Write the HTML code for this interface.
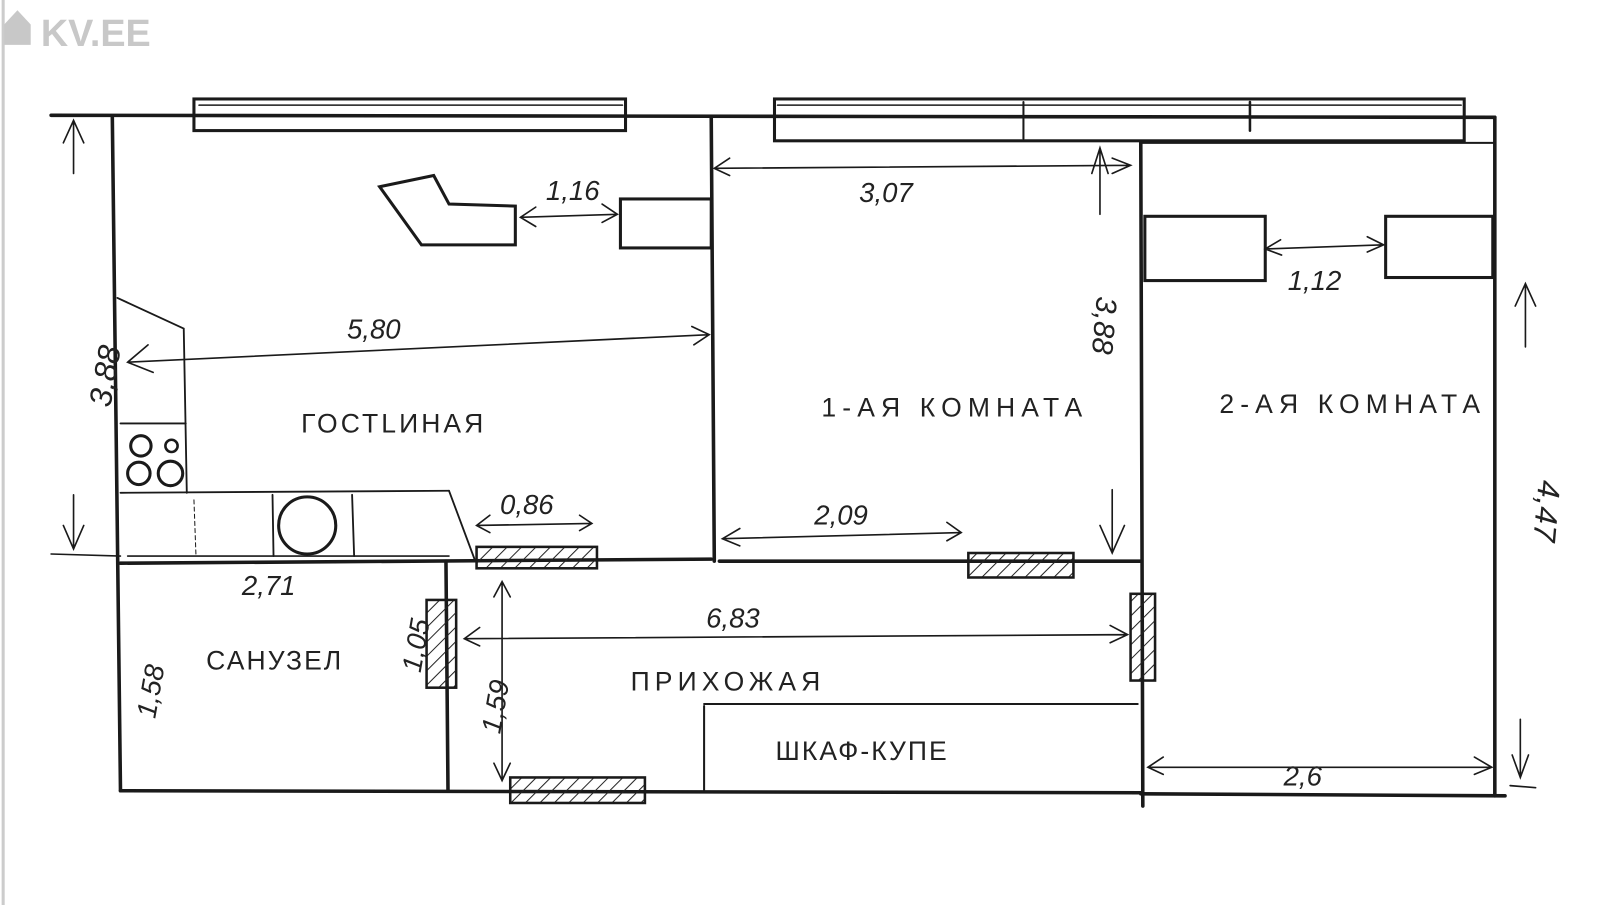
<!DOCTYPE html>
<html><head><meta charset="utf-8"><style>
html,body{margin:0;padding:0;background:#fff;width:1600px;height:905px;overflow:hidden}
svg{display:block}
text{font-family:"Liberation Sans","DejaVu Sans",sans-serif;fill:#222}
</style></head><body>
<svg width="1600" height="905" viewBox="0 0 1568 887" xmlns="http://www.w3.org/2000/svg">
<defs>
<pattern id="h" width="10" height="10" patternUnits="userSpaceOnUse" patternTransform="rotate(45)">
<line x1="0" y1="0" x2="0" y2="10" stroke="#222" stroke-width="2"/></pattern>
</defs>
<rect width="1568" height="887" fill="#fff"/>
<line x1="3" y1="0" x2="3" y2="887" stroke="#ccc" stroke-width="3"/>
<!-- logo -->
<path d="M4 44 L4 24 L17 10 L30 24 L30 44 Z" fill="#c8c8c8"/>
<text x="40" y="45" font-size="37" font-weight="bold" style="fill:#c8c8c8">KV.EE</text>
<g stroke="#1a1a1a" fill="none" stroke-linecap="round">
<g stroke-width="3.5">
<line x1="50" y1="113" x2="1465" y2="115"/>
<line x1="110" y1="115" x2="118" y2="775"/>
<line x1="697" y1="115" x2="700" y2="550"/>
<line x1="1118" y1="140" x2="1120" y2="790"/>
<line x1="1465" y1="115" x2="1465" y2="780"/>
<line x1="118" y1="552" x2="697" y2="548"/>
<line x1="705" y1="550" x2="1118" y2="550"/>
<line x1="118" y1="775" x2="1118" y2="777"/>
<line x1="1118" y1="778" x2="1475" y2="780"/>
<line x1="437" y1="550" x2="439" y2="775"/>
</g>
<line x1="1118" y1="140" x2="1465" y2="140" stroke-width="2"/>
<line x1="50" y1="543" x2="118" y2="545" stroke-width="1.5"/>
<rect x="190" y="97" width="423" height="31" stroke-width="3"/>
<line x1="195" y1="103" x2="610" y2="103" stroke-width="1.5"/>
<rect x="759" y="97" width="676" height="41" stroke-width="3"/>
<line x1="762" y1="103" x2="1432" y2="103" stroke-width="1.5"/>
<line x1="1003" y1="100" x2="1003" y2="136" stroke-width="2"/>
<line x1="1225" y1="100" x2="1225" y2="128" stroke-width="2.5"/>
<rect x="608" y="195" width="89" height="48" stroke-width="3"/>
<rect x="1122" y="212" width="118" height="63" stroke-width="3"/>
<rect x="1358" y="212" width="105" height="60" stroke-width="3"/>
<path d="M372 183 L425 172 L440 200 L505 202 L505 240 L413 240 Z" stroke-width="3"/>
<path d="M115 292 L180 322 L183 483" stroke-width="1.8"/>
<line x1="118" y1="415" x2="182" y2="415" stroke-width="1.8"/>
<line x1="118" y1="483" x2="440" y2="481" stroke-width="1.8"/>
<line x1="440" y1="481" x2="465" y2="548" stroke-width="1.8"/>
<line x1="125" y1="545" x2="440" y2="545" stroke-width="1.5"/>
<line x1="190" y1="490" x2="192" y2="545" stroke-width="1" stroke-dasharray="4 3"/>
<line x1="267" y1="485" x2="268" y2="545" stroke-width="1.8"/>
<line x1="345" y1="485" x2="347" y2="545" stroke-width="1.8"/>
<circle cx="301" cy="515" r="28" stroke-width="3"/>
<circle cx="138" cy="437" r="10" stroke-width="3"/>
<circle cx="168" cy="437" r="6" stroke-width="2.5"/>
<circle cx="136" cy="464" r="11" stroke-width="3"/>
<circle cx="167" cy="464" r="12" stroke-width="3"/>
<line x1="690" y1="690" x2="1115" y2="690" stroke-width="2"/>
<line x1="690" y1="692" x2="690" y2="775" stroke-width="2"/>
<g stroke-width="2.5" fill="url(#h)">
<rect x="467" y="536" width="118" height="21"/>
<rect x="949" y="542" width="103" height="24"/>
<rect x="418" y="588" width="29" height="86"/>
<rect x="1108" y="582" width="24" height="85"/>
<rect x="500" y="762" width="132" height="25"/>
</g>
<g stroke-width="1.6">
<path d="M510 213 L605 210 M525 203 L510 213 L525 222 M590 200 L605 210 L590 218"/>
<path d="M700 165 L1108 162 M715 155 L700 165 L715 172 M1090 155 L1108 162 L1090 170"/>
<path d="M125 355 L695 328 M145 338 L125 355 L150 365 M678 320 L695 328 L680 338"/>
<path d="M708 528 L942 522 M725 518 L708 528 L725 535 M928 512 L942 522 L928 530"/>
<path d="M467 515 L580 513 M480 505 L467 515 L480 522 M568 505 L580 513 L568 520"/>
<path d="M455 626 L1105 622 M470 615 L455 626 L470 633 M1088 613 L1105 622 L1088 630"/>
<path d="M492 570 L492 765 M484 585 L492 570 L500 585 M484 748 L492 765 L500 748"/>
<path d="M1240 244 L1356 240 M1255 235 L1240 244 L1256 250 M1340 232 L1356 240 L1340 247"/>
<path d="M1125 752 L1462 752 M1140 742 L1125 752 L1140 759 M1445 742 L1462 752 L1445 759"/>
<path d="M72 118 L72 170 M62 140 L72 118 L82 140"/>
<path d="M72 485 L72 538 M62 515 L72 538 L82 515"/>
<path d="M1078 145 L1078 210 M1070 170 L1078 145 L1086 170"/>
<path d="M1090 480 L1090 542 M1078 515 L1090 542 L1102 515"/>
<path d="M1495 278 L1495 340 M1485 300 L1495 278 L1505 300"/>
<path d="M1490 705 L1490 762 M1482 740 L1490 762 L1498 740 M1480 770 L1505 772"/>
</g>
</g>
<g font-size="27" font-style="italic">
<text x="535" y="196">1,16</text>
<text x="842" y="198">3,07</text>
<text x="340" y="332">5,80</text>
<text x="798" y="514">2,09</text>
<text x="490" y="504">0,86</text>
<text x="237" y="583">2,71</text>
<text x="692" y="615">6,83</text>
<text x="1262" y="284">1,12</text>
<text x="1258" y="770">2,6</text>
<text font-size="31" transform="translate(108,400) rotate(-80)">3,88</text>
<text font-size="29" transform="translate(1075,290) rotate(95)">3,88</text>
<text font-size="31" transform="translate(1508,470) rotate(95)">4,47</text>
<text transform="translate(152,705) rotate(-80)">1,58</text>
<text transform="translate(412,660) rotate(-80)">1,05</text>
<text transform="translate(490,720) rotate(-80)">1,59</text>
</g>
<g font-size="26" letter-spacing="3">
<text x="295" y="424">ГОСТLИНАЯ</text>
<text x="805" y="408" letter-spacing="6">1-АЯ КОМНАТА</text>
<text x="1195" y="405" letter-spacing="6">2-АЯ КОМНАТА</text>
<text x="202" y="656" letter-spacing="2">САНУЗЕЛ</text>
<text x="618" y="677" letter-spacing="5">ПРИХОЖАЯ</text>
<text x="760" y="745" letter-spacing="2">ШКАФ-КУПЕ</text>
</g>
</svg>
</body></html>
